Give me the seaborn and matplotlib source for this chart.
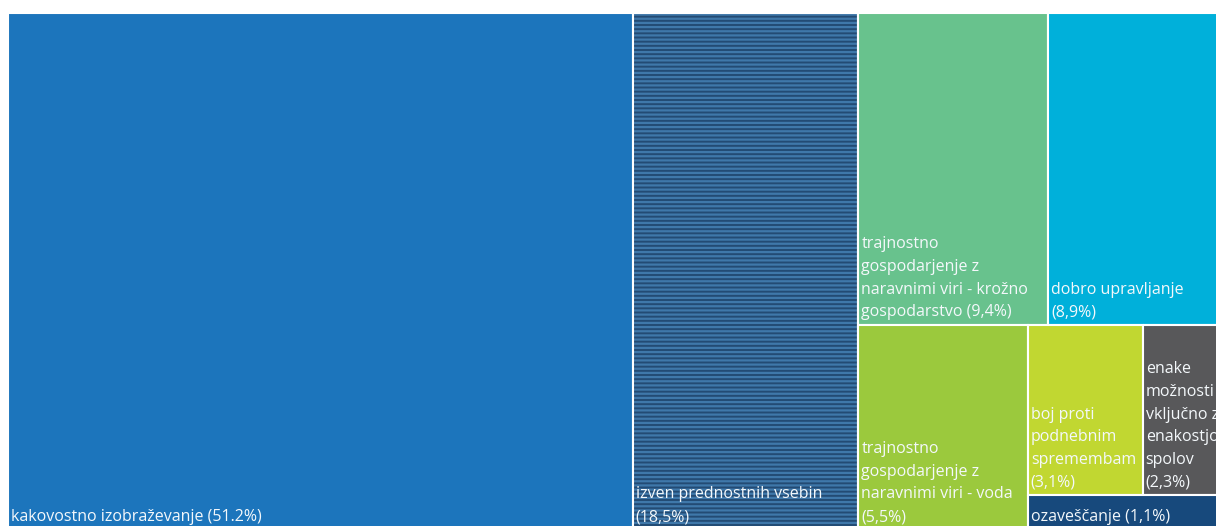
import matplotlib
matplotlib.use("Agg")
import matplotlib.pyplot as plt
import seaborn as sns

# Data: shares of the programme (%)
labels = [
    "kakovostno izobraževanje (51.2%)",
    "izven prednostnih vsebin\n(18,5%)",
    "trajnostno\ngospodarjenje z\nnaravnimi viri - krožno\ngospodarstvo (9,4%)",
    "dobro upravljanje\n(8,9%)",
    "trajnostno\ngospodarjenje z\nnaravnimi viri - voda\n(5,5%)",
    "boj proti\npodnebnim\nspremembam\n(3,1%)",
    "enake\nmožnosti\nvključno z\nenakostjo\nspolov\n(2,3%)",
    "ozaveščanje (1,1%)",
]
values = [51.2, 18.5, 9.4, 8.9, 5.5, 3.1, 2.3, 1.1]
colors = ["#1c75bc", "#234b74", "#68c28d", "#00b0da",
          "#9bc93d", "#c1d731", "#58585a", "#17497c"]

# nesting of the treemap (slice direction alternates at each level)
tree = [0, 1, [[2, 3], [4, [[5, 6], 7]]]]


def node_sum(node):
    if isinstance(node, list):
        return sum(node_sum(n) for n in node)
    return values[node]


def layout(node, x, y, w, h, horizontal, out):
    if not isinstance(node, list):
        out[node] = (x, y, w, h)
        return
    total = node_sum(node)
    pos = 0.0
    for child in node:
        frac = node_sum(child) / total
        if horizontal:
            layout(child, x + pos * w, y, w * frac, h, not horizontal, out)
        else:
            layout(child, x, y + pos * h, w, h * frac, not horizontal, out)
        pos += frac


rects = {}
layout(tree, 0.0, 0.0, 1.0, 1.0, True, rects)

sns.set_theme(style="white")
plt.rcParams["font.family"] = ["Open Sans", "DejaVu Sans"]
plt.rcParams["hatch.linewidth"] = 1.6

fig = plt.figure(figsize=(12.16, 5.26), dpi=100)
# the treemap runs slightly past the right and bottom edge of the picture
ax = fig.add_axes([8 / 1216, -4 / 526, 1220 / 1216, 517 / 526])
ax.set_xlim(0, 1)
ax.set_ylim(1, 0)
ax.axis("off")

for i in range(len(values)):
    x, y, w, h = rects[i]
    if i == 1:
        ax.bar(x, h, width=w, bottom=y, align="edge", color=colors[i],
               edgecolor="#3f78aa", linewidth=0, hatch="----")
    else:
        ax.bar(x, h, width=w, bottom=y, align="edge", color=colors[i],
               linewidth=0)
    # white gaps between tiles
    ax.bar(x, h, width=w, bottom=y, align="edge", facecolor="none",
           edgecolor="white", linewidth=1.5)
    ax.annotate(labels[i], xy=(x, y + h), xytext=(3, 5),
                textcoords="offset pixels", ha="left", va="bottom",
                color="#f4f8fb", fontsize=11.5, linespacing=1.55,
                annotation_clip=False)

plt.savefig("out.png", dpi=100)
